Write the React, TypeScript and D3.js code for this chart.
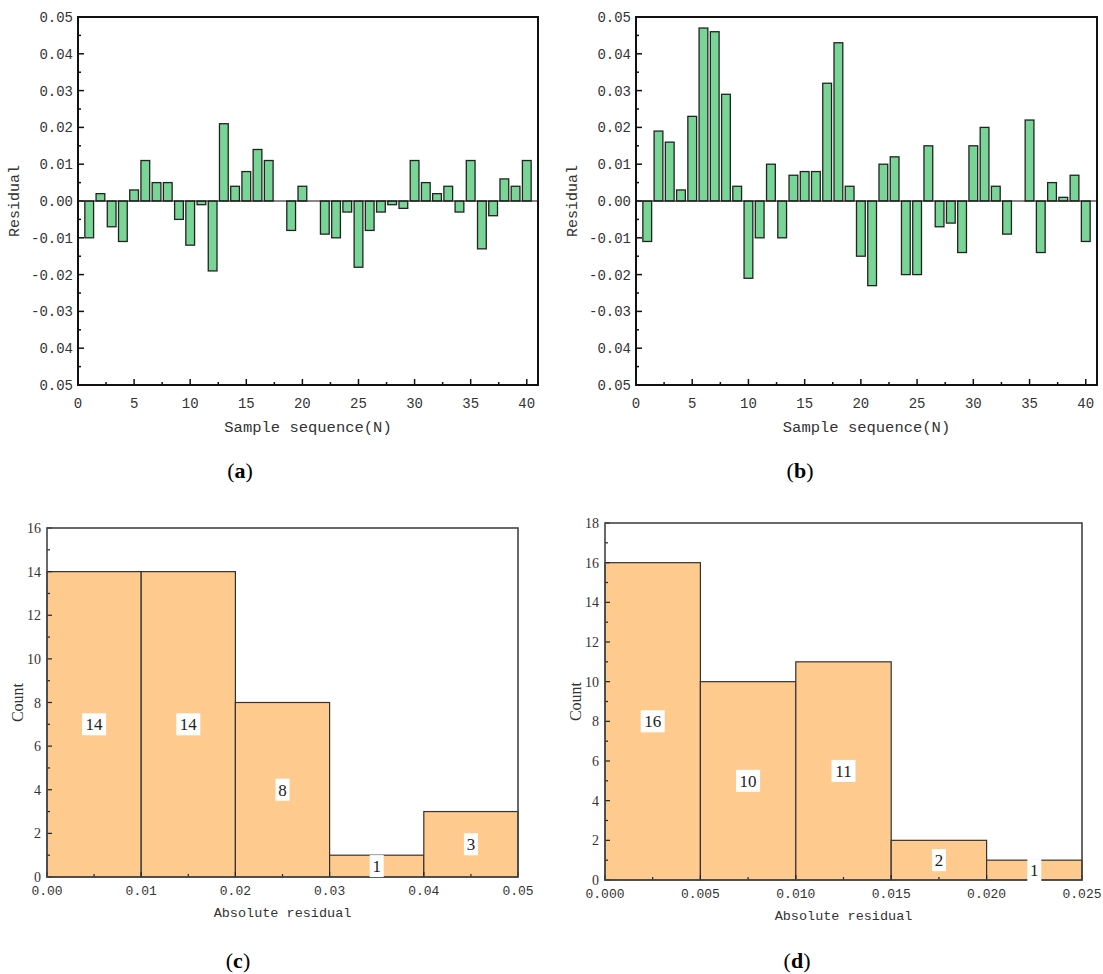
import React, { useEffect, useRef } from "react";
import * as d3 from "d3";

// residuals of the 40 test samples, panel (a) and (b)
const residualsA = [
  -0.01, 0.002, -0.007, -0.011, 0.003, 0.011, 0.005, 0.005, -0.005, -0.012,
  -0.001, -0.019, 0.021, 0.004, 0.008, 0.014, 0.011, 0, -0.008, 0.004,
  0, -0.009, -0.01, -0.003, -0.018, -0.008, -0.003, -0.001, -0.002, 0.011,
  0.005, 0.002, 0.004, -0.003, 0.011, -0.013, -0.004, 0.006, 0.004, 0.011,
];
const residualsB = [
  -0.011, 0.019, 0.016, 0.003, 0.023, 0.047, 0.046, 0.029, 0.004, -0.021,
  -0.01, 0.01, -0.01, 0.007, 0.008, 0.008, 0.032, 0.043, 0.004, -0.015,
  -0.023, 0.01, 0.012, -0.02, -0.02, 0.015, -0.007, -0.006, -0.014, 0.015,
  0.02, 0.004, -0.009, 0, 0.022, -0.014, 0.005, 0.001, 0.007, -0.011,
];
const residualTicks = [0.05, 0.04, 0.03, 0.02, 0.01, 0, -0.01, -0.02, -0.03, -0.04, -0.05];
const residualTickLabels = ["0.05", "0.04", "0.03", "0.02", "0.01", "0.00", "-0.01", "-0.02", "-0.03", "0.04", "0.05"];
const sampleTicks = [0, 5, 10, 15, 20, 25, 30, 35, 40];

// histograms of absolute residual, panel (c) and (d)
const binEdgesC = [0, 0.01, 0.02, 0.03, 0.04, 0.05];
const countsC = [14, 14, 8, 1, 3];
const xTickLabelsC = ["0.00", "0.01", "0.02", "0.03", "0.04", "0.05"];
const countTicksC = [0, 2, 4, 6, 8, 10, 12, 14, 16];

const binEdgesD = [0, 0.005, 0.01, 0.015, 0.02, 0.025];
const countsD = [16, 10, 11, 2, 1];
const xTickLabelsD = ["0.000", "0.005", "0.010", "0.015", "0.020", "0.025"];
const countTicksD = [0, 2, 4, 6, 8, 10, 12, 14, 16, 18];

const MONO = "'Liberation Mono', 'DejaVu Sans Mono', monospace";
const SERIF = "'Liberation Serif', 'DejaVu Serif', serif";

function drawResidual(g, values, box) {
  const x = d3.scaleLinear().domain([0, 41]).range([box.left, box.right]);
  const y = d3.scaleLinear().domain([-0.05, 0.05]).range([box.bottom, box.top]);
  const bw = x(0.78) - x(0);

  g.append("g")
    .selectAll("rect")
    .data(values.map((v, i) => ({ v, n: i + 1 })).filter((d) => d.v !== 0))
    .join("rect")
    .attr("x", (d) => x(d.n) - bw / 2)
    .attr("y", (d) => y(Math.max(0, d.v)))
    .attr("width", bw)
    .attr("height", (d) => Math.abs(y(d.v) - y(0)))
    .attr("fill", "#79d596")
    .attr("stroke", "#222")
    .attr("stroke-width", 1.3);

  // zero line
  g.append("line")
    .attr("x1", box.left).attr("x2", box.right)
    .attr("y1", y(0)).attr("y2", y(0))
    .attr("stroke", "#111").attr("stroke-width", 1.2);

  // minor + major ticks, pointing inward
  const ticks = g.append("g").attr("stroke", "#111").attr("stroke-width", 1.5);
  d3.range(-0.05, 0.0501, 0.005).forEach((t, k) => {
    const len = k % 2 === 0 ? 6 : 3;
    ticks.append("line").attr("x1", box.left).attr("x2", box.left + len).attr("y1", y(t)).attr("y2", y(t));
  });
  d3.range(0, 41, 2.5).forEach((t, k) => {
    const len = k % 2 === 0 ? 6 : 3;
    ticks.append("line").attr("x1", x(t)).attr("x2", x(t)).attr("y1", box.bottom).attr("y2", box.bottom - len);
  });

  g.append("rect")
    .attr("x", box.left).attr("y", box.top)
    .attr("width", box.right - box.left).attr("height", box.bottom - box.top)
    .attr("fill", "none").attr("stroke", "#111").attr("stroke-width", 2);

  g.append("g")
    .selectAll("text")
    .data(residualTicks)
    .join("text")
    .attr("x", box.left - 5)
    .attr("y", (d) => y(d) + 5)
    .attr("text-anchor", "end")
    .style("font-family", MONO)
    .style("font-size", "14px")
    .style("fill", "#333")
    .text((d, i) => residualTickLabels[i]);

  g.append("g")
    .selectAll("text")
    .data(sampleTicks)
    .join("text")
    .attr("x", (d) => x(d))
    .attr("y", box.bottom + 23)
    .attr("text-anchor", "middle")
    .style("font-family", MONO)
    .style("font-size", "14px")
    .style("fill", "#333")
    .text((d) => d);

  g.append("text")
    .attr("transform", `translate(${box.left - 59},${(box.top + box.bottom) / 2}) rotate(-90)`)
    .attr("text-anchor", "middle")
    .style("font-family", MONO)
    .style("font-size", "15px")
    .style("fill", "#333")
    .text("Residual");

  g.append("text")
    .attr("x", (box.left + box.right) / 2)
    .attr("y", box.bottom + 47)
    .attr("text-anchor", "middle")
    .style("font-family", MONO)
    .style("font-size", "15.5px")
    .style("fill", "#333")
    .text("Sample sequence(N)");
}

function drawHistogram(g, edges, counts, xLabels, yTicks, yMax, box) {
  const x = d3.scaleLinear().domain([edges[0], edges[edges.length - 1]]).range([box.left, box.right]);
  const y = d3.scaleLinear().domain([0, yMax]).range([box.bottom, box.top]);
  const bins = counts.map((c, i) => ({ c, x0: edges[i], x1: edges[i + 1] }));

  g.append("g")
    .selectAll("rect")
    .data(bins)
    .join("rect")
    .attr("x", (d) => x(d.x0))
    .attr("y", (d) => y(d.c))
    .attr("width", (d) => x(d.x1) - x(d.x0))
    .attr("height", (d) => y(0) - y(d.c))
    .attr("fill", "#ffca8e")
    .attr("stroke", "#333")
    .attr("stroke-width", 1.2);

  const step = edges[1] - edges[0];
  const ticks = g.append("g").attr("stroke", "#222").attr("stroke-width", 1.2);
  d3.range(0, yMax + 0.01, 1).forEach((t) => {
    const len = t % 2 === 0 ? 5 : 3;
    ticks.append("line").attr("x1", box.left).attr("x2", box.left + len).attr("y1", y(t)).attr("y2", y(t));
  });
  d3.range(0, edges.length * 2 - 1).forEach((k) => {
    const t = edges[0] + (k * step) / 2;
    const len = k % 2 === 0 ? 5 : 3;
    ticks.append("line").attr("x1", x(t)).attr("x2", x(t)).attr("y1", box.bottom).attr("y2", box.bottom - len);
  });

  g.append("rect")
    .attr("x", box.left).attr("y", box.top)
    .attr("width", box.right - box.left).attr("height", box.bottom - box.top)
    .attr("fill", "none").attr("stroke", "#444").attr("stroke-width", 1.6);

  // count labels in white boxes
  const lab = g.append("g").selectAll("g").data(bins).join("g")
    .attr("transform", (d) => `translate(${(x(d.x0) + x(d.x1)) / 2},${y(d.c / 2)})`);
  lab.append("rect")
    .attr("x", (d) => (String(d.c).length > 1 ? -12 : -7))
    .attr("y", -11)
    .attr("width", (d) => (String(d.c).length > 1 ? 24 : 14))
    .attr("height", 22)
    .attr("fill", "#fff");
  lab.append("text")
    .attr("y", 6)
    .attr("text-anchor", "middle")
    .style("font-family", SERIF)
    .style("font-size", "17px")
    .style("fill", "#222")
    .text((d) => d.c);

  g.append("g")
    .selectAll("text")
    .data(yTicks)
    .join("text")
    .attr("x", box.left - 6)
    .attr("y", (d) => y(d) + 5)
    .attr("text-anchor", "end")
    .style("font-family", SERIF)
    .style("font-size", "14px")
    .style("fill", "#333")
    .text((d) => d);

  g.append("g")
    .selectAll("text")
    .data(edges)
    .join("text")
    .attr("x", (d) => x(d))
    .attr("y", box.bottom + 18)
    .attr("text-anchor", "middle")
    .style("font-family", MONO)
    .style("font-size", "13px")
    .style("fill", "#333")
    .text((d, i) => xLabels[i]);

  g.append("text")
    .attr("transform", `translate(${box.left - 24},${(box.top + box.bottom) / 2}) rotate(-90)`)
    .attr("text-anchor", "middle")
    .style("font-family", SERIF)
    .style("font-size", "16px")
    .style("fill", "#333")
    .text("Count");

  g.append("text")
    .attr("x", (box.left + box.right) / 2)
    .attr("y", box.bottom + 40)
    .attr("text-anchor", "middle")
    .style("font-family", MONO)
    .style("font-size", "13.5px")
    .style("fill", "#333")
    .text("Absolute residual");
}

export default function App() {
  const svgRef = useRef(null);

  useEffect(() => {
    const svg = d3.select(svgRef.current);
    svg.selectAll("*").remove();

    drawResidual(svg.append("g"), residualsA, { left: 78, right: 538, top: 17, bottom: 385 });
    drawResidual(svg.append("g"), residualsB, { left: 636, right: 1097, top: 17, bottom: 385 });
    drawHistogram(svg.append("g"), binEdgesC, countsC, xTickLabelsC, countTicksC, 16,
      { left: 47, right: 518, top: 528, bottom: 877 });
    drawHistogram(svg.append("g"), binEdgesD, countsD, xTickLabelsD, countTicksD, 18,
      { left: 605, right: 1082, top: 523, bottom: 880 });

    // panel letters
    const panels = [
      { k: "a", x: 240, y: 478 },
      { k: "b", x: 800, y: 478 },
      { k: "c", x: 238, y: 968 },
      { k: "d", x: 797, y: 968 },
    ];
    const t = svg.append("g").selectAll("text").data(panels).join("text")
      .attr("x", (d) => d.x)
      .attr("y", (d) => d.y)
      .attr("text-anchor", "middle")
      .style("font-family", SERIF)
      .style("font-size", "22px")
      .style("fill", "#000");
    t.append("tspan").text("(");
    t.append("tspan").style("font-weight", "bold").text((d) => d.k);
    t.append("tspan").text(")");
  }, []);

  return (
    <svg
      ref={svgRef}
      width={1103}
      height={974}
      style={{ position: "absolute", left: 0, top: 0, background: "#fff" }}
    />
  );
}
